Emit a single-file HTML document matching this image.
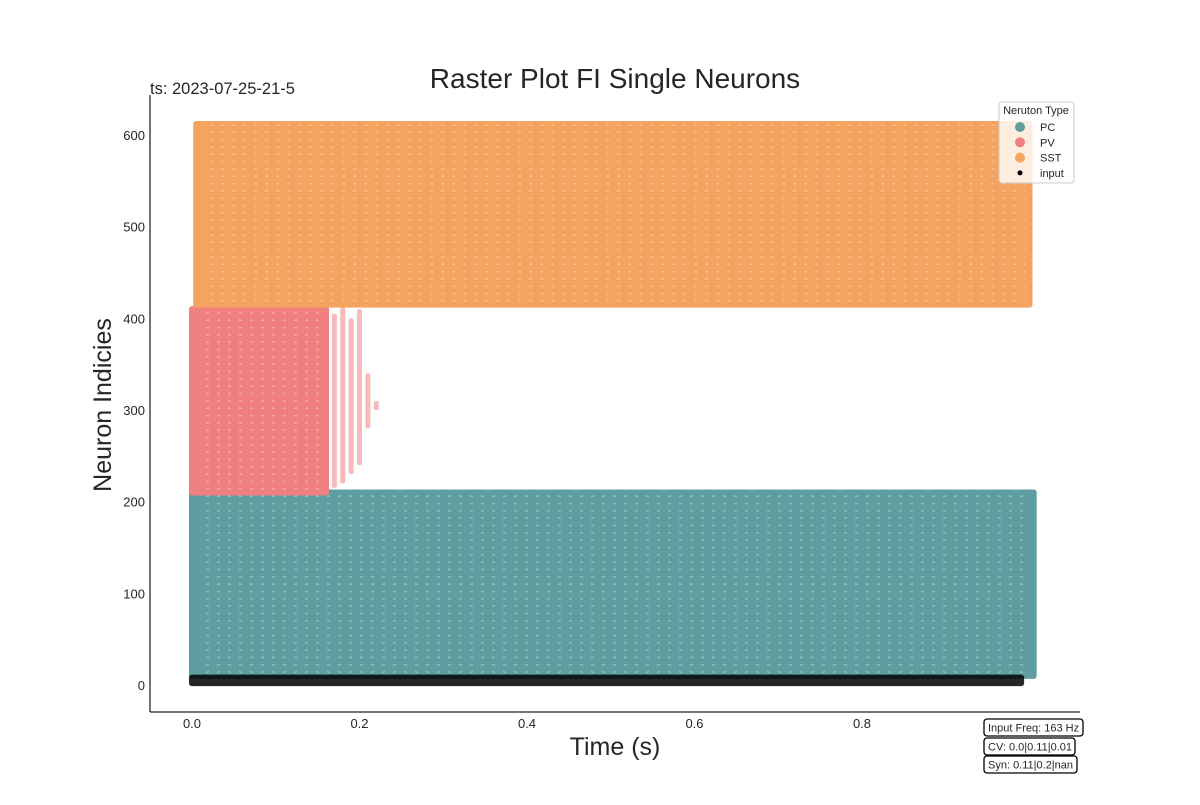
<!DOCTYPE html>
<html><head><meta charset="utf-8"><style>
body{margin:0;background:#fff;font-family:"Liberation Sans",sans-serif}
svg text{font-family:"Liberation Sans",sans-serif;fill:#262626}
</style></head><body>
<svg id="c" width="1200" height="800"></svg>
<script>
const popNames=["PC","PV","SST","input"];
const popColors=["#5f9ea0","#f08080","#f4a460","#000000"];
const popNeuronStart=[10,210,415,2];
const popNeuronEnd=[210,410,612,8];
const popTimeStart=[0.0,0.0,0.005,0.0];
const popTimeEnd=[1.005,0.16,1.0,0.99];
const pvTailTimes=[0.17,0.18,0.19,0.2,0.21,0.22];
const pvTailTop=[405,412,400,410,340,310];
const pvTailBottom=[215,220,230,240,280,300];
const xTicks=[0.0,0.2,0.4,0.6,0.8];
const yTicks=[0,100,200,300,400,500,600];
const NS="http://www.w3.org/2000/svg";
const svg=document.getElementById('c');
const X=t=>192+t*837.5;
const Y=n=>685-n*0.9167;
function mk(tag,a,txt){const e=document.createElementNS(NS,tag);for(const k in a)e.setAttribute(k,a[k]);if(txt!==undefined)e.textContent=txt;svg.appendChild(e);return e;}
popNames.forEach((p,i)=>{
 const e=mk('rect',{x:X(popTimeStart[i])-3,y:Y(popNeuronEnd[i])-3,width:X(popTimeEnd[i])-X(popTimeStart[i])+6,height:Y(popNeuronStart[i])-Y(popNeuronEnd[i])+6,fill:popColors[i],'fill-opacity':i==3?0.85:1,rx:3});
 
 
 if(i==3)return;
 for(let n=popNeuronStart[i]+4;n<popNeuronEnd[i];n+=8){
  const l=mk('line',{x1:X(popTimeStart[i])+14,x2:X(popTimeEnd[i])-4,y1:Y(n),y2:Y(n),stroke:'#fff','stroke-opacity':0.3,'stroke-width':1.5,'stroke-dasharray':'3 8'});
  
  
 }
});
pvTailTimes.forEach((t,i)=>{
 const e=mk('rect',{x:X(t)-2.5,y:Y(pvTailTop[i]),width:5,height:Y(pvTailBottom[i])-Y(pvTailTop[i]),fill:'#f08080','fill-opacity':0.55,rx:2});
 
 
});
let e=mk('line',{x1:150,y1:95,x2:150,y2:712,stroke:'#262626','stroke-width':1.3});

e=mk('line',{x1:150,y1:712,x2:1080,y2:712,stroke:'#262626','stroke-width':1.3});

xTicks.forEach(t=>{e=mk('text',{x:X(t),y:728,'font-size':13,'text-anchor':'middle'},t.toFixed(1));
 });
yTicks.forEach(t=>{e=mk('text',{x:145,y:Y(t)+5,'font-size':13,'text-anchor':'end'},t);
 });
e=mk('text',{x:615,y:88,'font-size':28,'text-anchor':'middle'},'Raster Plot FI Single Neurons');

e=mk('text',{x:150,y:94,'font-size':16.5},'ts: 2023-07-25-21-5');

e=mk('text',{x:615,y:755,'font-size':25,'text-anchor':'middle'},'Time (s)');

e=mk('text',{x:111,y:405,'font-size':25,'text-anchor':'middle',transform:'rotate(-90 111 405)'},'Neuron Indicies');

e=mk('rect',{x:999,y:102,width:75,height:81,fill:'#fff','fill-opacity':0.8,stroke:'#ccc',rx:3});

mk('text',{x:1036,y:114,'font-size':11,'text-anchor':'middle'},'Neruton Type');
popNames.forEach((p,i)=>{const y=127+i*15.3;
 e=mk('circle',{cx:1020,cy:y,r:i==3?2.5:5,fill:popColors[i]});
 
 e=mk('text',{x:1040,y:y+4,'font-size':11},p);
 
});
const boxes=[["Input Freq: 163 Hz",719,99],["CV: 0.0|0.11|0.01",738,91],["Syn: 0.11|0.2|nan",756,93]];
boxes.forEach(b=>{
 e=mk('rect',{x:984,y:b[1],width:b[2],height:17,fill:'#fff',stroke:'#000','stroke-width':1.3,rx:3});
 
 mk('text',{x:988,y:b[1]+12.5,'font-size':11,fill:'#000'},b[0]);
});
</script>
</body></html>
